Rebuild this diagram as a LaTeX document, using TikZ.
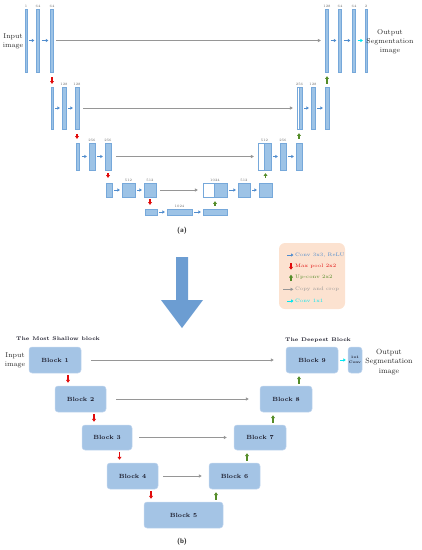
\documentclass[tikz,border=0pt]{standalone}
\usepackage{tikz}
\usetikzlibrary{arrows.meta,calc}
\definecolor{barblue}{RGB}{157,195,230}
\definecolor{barline}{RGB}{118,168,218}
\definecolor{convblue}{RGB}{80,140,205}
\definecolor{poolred}{RGB}{225,10,10}
\definecolor{upgreen}{RGB}{84,140,40}
\definecolor{copygray}{RGB}{150,150,150}
\definecolor{onecyan}{RGB}{0,230,240}
\definecolor{blockblue}{RGB}{164,196,229}
\definecolor{blockline}{RGB}{195,215,238}
\definecolor{legendpeach}{RGB}{252,226,208}
\definecolor{bigarrowblue}{RGB}{108,157,210}
\definecolor{textdark}{RGB}{25,25,40}

\begin{document}
\begin{tikzpicture}[
        x=1pt, y=-1pt,
        bar/.style={rectangle, draw=barline, fill=barblue, line width=0.25pt, inner sep=0pt},
        hollow/.style={rectangle, draw=barline, fill=white, line width=0.25pt, inner sep=0pt},
        sizelabel/.style={font=\fontsize{3.5}{4}\selectfont, text=black!60, inner sep=0.8pt},
        conv/.style={-{Triangle[length=2.4pt,width=3pt]}, line width=0.8pt, color=convblue, shorten <=2pt, shorten >=2pt},
        pool/.style={-{Triangle[length=2.8pt,width=3.8pt]}, line width=1.2pt, color=poolred},
        upconv/.style={-{Triangle[length=2.8pt,width=3.8pt]}, line width=1.2pt, color=upgreen},
        copycrop/.style={-{Triangle[length=3pt,width=3.2pt]}, line width=0.9pt, color=copygray},
        onebyone/.style={-{Triangle[length=2.4pt,width=3.2pt]}, line width=1pt, color=onecyan, shorten <=2pt, shorten >=2pt},
        sidetext/.style={font=\fontsize{7}{9}\selectfont, align=center, text=black!85},
        figlabel/.style={font=\fontsize{7}{8}\sffamily\bfseries, text=black!85},
        legendbox/.style={rectangle, rounded corners=6pt, fill=legendpeach, minimum width=66, minimum height=66},
        legtext/.style={font=\fontsize{5}{6}\selectfont, anchor=west, inner sep=0pt},
        block/.style={rectangle, rounded corners=3pt, draw=blockline, fill=blockblue, line width=0.5pt, minimum height=26, font=\fontsize{6}{7}\selectfont\bfseries, text=textdark},
        headtext/.style={font=\fontsize{5.2}{6}\selectfont\bfseries, text=textdark}
    ]
    \useasboundingbox (0,0) rectangle (422,550);

    % (a) Contracting path
    \node[bar, minimum width=2, minimum height=63, label={[sizelabel]above:1}] (L1a) at (26,40.5) {};
    \node[bar, minimum width=3, minimum height=63, label={[sizelabel]above:64}] (L1b) at (38,40.5) {};
    \node[bar, minimum width=3, minimum height=63, label={[sizelabel]above:64}] (L1c) at (52,40.5) {};

    \node[bar, minimum width=2, minimum height=42] (L2a) at (52,108) {};
    \node[bar, minimum width=4, minimum height=42, label={[sizelabel]above:128}] (L2b) at (64,108) {};
    \node[bar, minimum width=4, minimum height=42, label={[sizelabel]above:128}] (L2c) at (77,108) {};

    \node[bar, minimum width=3, minimum height=27] (L3a) at (78,156.5) {};
    \node[bar, minimum width=6, minimum height=27, label={[sizelabel]above:256}] (L3b) at (92,156.5) {};
    \node[bar, minimum width=6, minimum height=27, label={[sizelabel]above:256}] (L3c) at (108,156.5) {};

    \node[bar, minimum width=6, minimum height=14] (L4a) at (109,190) {};
    \node[bar, minimum width=13, minimum height=14, label={[sizelabel]above:512}] (L4b) at (128.5,190) {};
    \node[bar, minimum width=12, minimum height=14, label={[sizelabel]above:512}] (L4c) at (150,190) {};

    % (a) Bottom
    \node[bar, minimum width=12, minimum height=6] (B5a) at (151,212) {};
    \node[bar, minimum width=25, minimum height=6, label={[sizelabel]above:1024}] (B5b) at (179.5,212) {};
    \node[bar, minimum width=24, minimum height=6] (B5c) at (215,212) {};

    % (a) Expanding path
    \node[hollow, minimum width=24, minimum height=14, label={[sizelabel]above:1024}] (R4w) at (215,190) {};
    \node[bar, minimum width=13, minimum height=14] (R4a) at (220.5,190) {};
    \node[bar, minimum width=12, minimum height=14, label={[sizelabel]above:512}] (R4b) at (244,190) {};
    \node[bar, minimum width=13, minimum height=14] (R4c) at (265.5,190) {};

    \node[hollow, minimum width=13, minimum height=27, label={[sizelabel]above:512}] (R3w) at (264.5,156.5) {};
    \node[bar, minimum width=7, minimum height=27] (R3a) at (267.5,156.5) {};
    \node[bar, minimum width=6, minimum height=27, label={[sizelabel]above:256}] (R3b) at (283,156.5) {};
    \node[bar, minimum width=6, minimum height=27] (R3c) at (299,156.5) {};

    \node[hollow, minimum width=5, minimum height=42, label={[sizelabel]above:256}] (R2w) at (299.5,108) {};
    \node[bar, minimum width=2.5, minimum height=42] (R2a) at (300.75,108) {};
    \node[bar, minimum width=4, minimum height=42, label={[sizelabel]above:128}] (R2b) at (313,108) {};
    \node[bar, minimum width=4, minimum height=42] (R2c) at (327,108) {};

    \node[bar, minimum width=3, minimum height=63, label={[sizelabel]above:128}] (R1a) at (327,40.5) {};
    \node[bar, minimum width=3, minimum height=63, label={[sizelabel]above:64}] (R1b) at (340,40.5) {};
    \node[bar, minimum width=3, minimum height=63, label={[sizelabel]above:64}] (R1c) at (354,40.5) {};
    \node[bar, minimum width=2, minimum height=63, label={[sizelabel]above:2}] (R1d) at (366,40.5) {};

    \node[sidetext] (in_a) at (13,41.5) {Input\\image};
    \node[sidetext] (out_a) at (390,41.5) {Output\\Segmentation\\image};

    % Conv 3x3 arrows
    \draw[conv] (L1a) -- (L1b);
    \draw[conv] (L1b) -- (L1c);
    \draw[conv] (L2a) -- (L2b);
    \draw[conv] (L2b) -- (L2c);
    \draw[conv] (L3a) -- (L3b);
    \draw[conv] (L3b) -- (L3c);
    \draw[conv] (L4a) -- (L4b);
    \draw[conv] (L4b) -- (L4c);
    \draw[conv] (B5a) -- (B5b);
    \draw[conv] (B5b) -- (B5c);
    \draw[conv] (R4a) -- (R4b);
    \draw[conv] (R4b) -- (R4c);
    \draw[conv] (R3a) -- (R3b);
    \draw[conv] (R3b) -- (R3c);
    \draw[conv] (R2a) -- (R2b);
    \draw[conv] (R2b) -- (R2c);
    \draw[conv] (R1a) -- (R1b);
    \draw[conv] (R1b) -- (R1c);
    \draw[onebyone] (R1c) -- (R1d);

    % Copy and crop
    \draw[copycrop, shorten <=2.5pt, shorten >=4.5pt] (L1c) -- (R1a);
    \draw[copycrop, shorten <=4pt, shorten >=4pt] (L2c) -- (R2w);
    \draw[copycrop, shorten <=5pt, shorten >=4pt] (L3c) -- (R3w);
    \draw[copycrop, shorten <=4pt, shorten >=5pt] (L4c) -- (R4w);

    % Max pool and up-conv
    \draw[pool, shorten <=5pt, shorten >=3pt] (L1c.south) -- (L1c.south |- L2a.north);
    \draw[pool, shorten <=5pt, shorten >=4pt] (L2c.south) -- (L2c.south |- L3a.north);
    \draw[pool, shorten <=3pt, shorten >=5pt] (L3c.south) -- (L3c.south |- L4a.north);
    \draw[pool, shorten <=2pt, shorten >=4pt] (L4c.south) -- (L4c.south |- B5a.north);
    \draw[upconv, shorten <=3pt, shorten >=4pt] (B5c.north) -- (B5c.north |- R4w.south);
    \draw[upconv, shorten <=5pt, shorten >=3pt] (R4c.north) -- (R4c.north |- R3w.south);
    \draw[upconv, shorten <=4pt, shorten >=4pt] (R3c.north) -- (R3c.north |- R2w.south);
    \draw[upconv, shorten <=3pt, shorten >=4pt] (R2c.north) -- (R2c.north |- R1a.south);

    \node[figlabel] (lab_a) at (182,231) {(a)};

    % Big arrow
    \fill[bigarrowblue] (176,257) -- (188,257) -- (188,300) -- (203,300) -- (182,328) -- (161,300) -- (176,300) -- cycle;

    % Legend
    \node[legendbox] (legend) at (312,276) {};
    \node[legtext, text=convblue] (lg1) at (295,255) {Conv 3x3, ReLU};
    \node[legtext, text=poolred] (lg2) at (295,266.7) {Max pool 2x2};
    \node[legtext, text=upgreen] (lg3) at (295,277.7) {Up-conv 2x2};
    \node[legtext, text=copygray] (lg4) at (295,289.3) {Copy and crop};
    \node[legtext, text=onecyan] (lg5) at (295,301) {Conv 1x1};
    \draw[conv, shorten <=0pt, shorten >=0pt] ([xshift=-8pt]lg1.west) -- ([xshift=-1.5pt]lg1.west);
    \draw[pool] ([xshift=-4pt,yshift=3.5pt]lg2.west) -- ([xshift=-4pt,yshift=-3pt]lg2.west);
    \draw[upconv] ([xshift=-4pt,yshift=-3.5pt]lg3.west) -- ([xshift=-4pt,yshift=3pt]lg3.west);
    \draw[copycrop] ([xshift=-12pt]lg4.west) -- ([xshift=-1.5pt]lg4.west);
    \draw[onebyone, shorten <=0pt, shorten >=0pt] ([xshift=-8pt]lg5.west) -- ([xshift=-1.5pt]lg5.west);

    % (b) Blocks
    \node[headtext] (shallow) at (58,339) {The Most Shallow block};
    \node[headtext] (deepest) at (318,340) {The Deepest Block};
    \node[block, minimum width=52] (b1) at (55,360) {Block 1};
    \node[block, minimum width=51] (b2) at (80.5,399) {Block 2};
    \node[block, minimum width=50, minimum height=25] (b3) at (107,437.5) {Block 3};
    \node[block, minimum width=51] (b4) at (132.5,476) {Block 4};
    \node[block, minimum width=79] (b5) at (183.5,515) {Block 5};
    \node[block, minimum width=51] (b6) at (234.5,476) {Block 6};
    \node[block, minimum width=52, minimum height=25] (b7) at (260,437.5) {Block 7};
    \node[block, minimum width=52] (b8) at (286,399) {Block 8};
    \node[block, minimum width=52] (b9) at (312,360) {Block 9};
    \node[block, minimum width=14, inner sep=0pt, align=center, font=\fontsize{3.5}{4.5}\selectfont\bfseries] (final) at (355,360) {1x1\\Conv};

    \node[sidetext] (in_b) at (15,360.5) {Input\\image};
    \node[sidetext, font=\fontsize{7.5}{9.5}\selectfont] (out_b) at (389,362) {Output\\Segmentation\\image};

    % (b) Skip connections
    \draw[copycrop, shorten <=10pt, shorten >=12pt] (b1) -- (b9);
    \draw[copycrop, shorten <=10pt, shorten >=11pt] (b2) -- (b8);
    \draw[copycrop, shorten <=7pt, shorten >=7pt] (b3) -- (b7);
    \draw[copycrop, shorten <=5pt, shorten >=7pt] (b4) -- (b6);
    \draw[onebyone] (b9) -- (final);

    % (b) Down and up
    \coordinate (d12) at ($(b2.west)!0.5!(b1.east)$);
    \coordinate (d23) at ($(b3.west)!0.5!(b2.east)$);
    \coordinate (d34) at ($(b4.west)!0.5!(b3.east)$);
    \coordinate (d45) at ($(b5.west)!0.5!(b4.east)$);
    \coordinate (u56) at ($(b6.west)!0.5!(b5.east)$);
    \coordinate (u67) at ($(b7.west)!0.5!(b6.east)$);
    \coordinate (u78) at ($(b8.west)!0.5!(b7.east)$);
    \coordinate (u89) at ($(b9.west)!0.5!(b8.east)$);
    \draw[pool, shorten <=2pt, shorten >=3pt] (b1.south -| d12) -- (b2.north -| d12);
    \draw[pool, shorten <=2pt, shorten >=3pt] (b2.south -| d23) -- (b3.north -| d23);
    \draw[pool, shorten <=2pt, shorten >=3pt] (b3.south -| d34) -- (b4.north -| d34);
    \draw[pool, shorten <=2pt, shorten >=3pt] (b4.south -| d45) -- (b5.north -| d45);
    \draw[upconv, shorten <=2pt, shorten >=3pt] (b5.north -| u56) -- (b6.south -| u56);
    \draw[upconv, shorten <=2pt, shorten >=3pt] (b6.north -| u67) -- (b7.south -| u67);
    \draw[upconv, shorten <=2pt, shorten >=3pt] (b7.north -| u78) -- (b8.south -| u78);
    \draw[upconv, shorten <=2pt, shorten >=3pt] (b8.north -| u89) -- (b9.south -| u89);

    \node[figlabel] (lab_b) at (182,542) {(b)};

\end{tikzpicture}
\end{document}
